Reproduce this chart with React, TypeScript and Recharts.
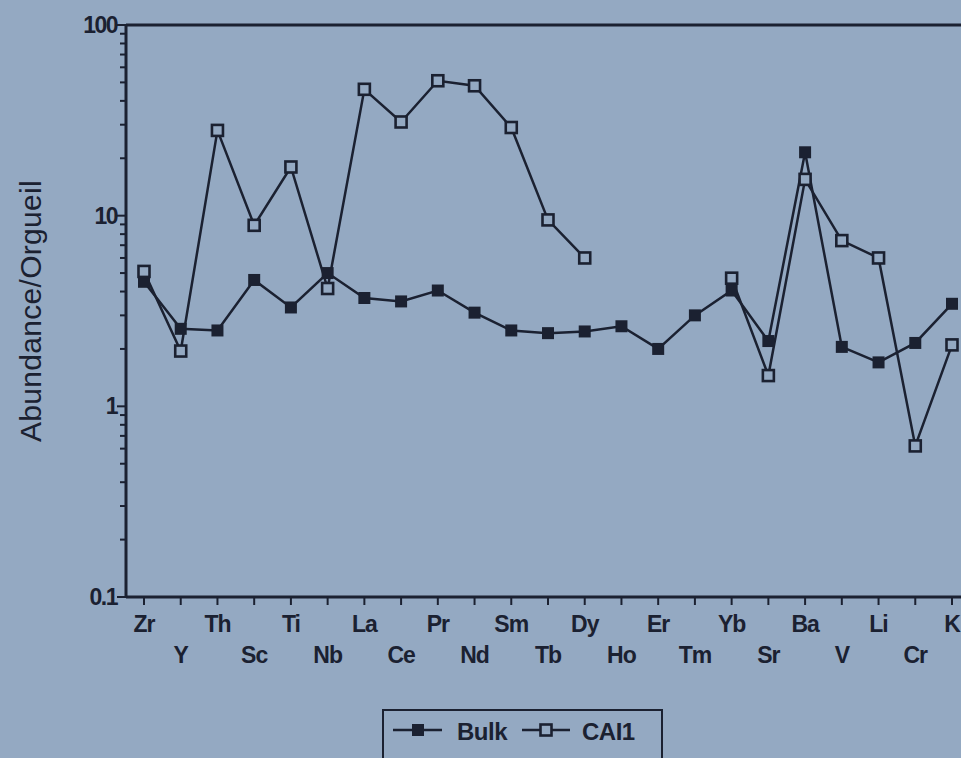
import React from "react";
import { Line, LineChart, ReferenceLine, XAxis, YAxis } from "recharts";

const elements = ["Zr", "Y", "Th", "Sc", "Ti", "Nb", "La", "Ce", "Pr", "Nd", "Sm", "Tb", "Dy", "Ho", "Er", "Tm", "Yb", "Sr", "Ba", "V", "Li", "Cr", "K"];
const bulk = [4.5, 2.55, 2.5, 4.6, 3.3, 5.0, 3.7, 3.55, 4.05, 3.1, 2.5, 2.42, 2.47, 2.63, 2.0, 3.0, 4.05, 2.2, 21.5, 2.05, 1.7, 2.15, 3.45];
const cai1 = [5.1, 1.95, 28, 8.9, 18, 4.15, 46, 31, 51, 48, 29, 9.5, 6.0, null, null, null, 4.7, 1.45, 15.5, 7.4, 6.0, 0.62, 2.1];
const majorTicks = [0.1, 1, 10, 100];
const minorTicks = [0.2, 0.3, 0.4, 0.5, 0.6, 0.7, 0.8, 0.9, 2, 3, 4, 5, 6, 7, 8, 9, 20, 30, 40, 50, 60, 70, 80, 90];

const data = elements.map((el, i) => ({ el, bulk: bulk[i], cai1: cai1[i] }));

const INK = "#1b2131";
const BG = "#94a9c2";
const FONT = "'Liberation Sans', Arial, sans-serif";

const FilledSquare = (props: any) => {
  const { cx, cy, index } = props;
  if (cx == null || cy == null) return <g key={index} />;
  return <rect key={index} x={cx - 6} y={cy - 6} width={12} height={12} fill={INK} />;
};

const OpenSquare = (props: any) => {
  const { cx, cy, index, value } = props;
  if (cx == null || cy == null || value == null) return <g key={index} />;
  return <rect key={index} x={cx - 5.5} y={cy - 5.5} width={11} height={11} fill={BG} stroke={INK} strokeWidth={2.6} />;
};

const XTick = (props: any) => {
  const { x, y, payload } = props;
  const row2 = payload.index % 2 === 1;
  return (
    <text x={x} y={y + (row2 ? 58 : 27)} textAnchor="middle" fill={INK} fontSize={23} fontWeight="bold" fontFamily={FONT} letterSpacing={-1}>
      {payload.value}
    </text>
  );
};

const YTick = (props: any) => {
  const { x, y, payload } = props;
  const major = majorTicks.includes(payload.value);
  return (
    <g>
      <line x1={x - (major ? 9 : 6)} x2={x} y1={y} y2={y} stroke={INK} strokeWidth={2} />
      {major && (
        <text x={x - 9} y={y + 8} textAnchor="end" fill={INK} fontSize={23} fontWeight="bold" fontFamily={FONT} letterSpacing={-1.5}>
          {payload.value}
        </text>
      )}
    </g>
  );
};

export default function App() {
  return (
    <div style={{ position: "fixed", inset: 0, background: BG, overflow: "hidden" }}>
      <LineChart width={980} height={758} data={data} margin={{ top: 25, right: 10, left: 0, bottom: 0 }}>
        <XAxis
          dataKey="el"
          interval={0}
          height={161}
          padding={{ left: 18, right: 18 }}
          tickSize={8}
          tickMargin={0}
          tickLine={{ stroke: INK, strokeWidth: 2 }}
          axisLine={{ stroke: INK, strokeWidth: 3 }}
          tick={<XTick />}
        />
        <YAxis
          scale="log"
          domain={[0.1, 100]}
          allowDataOverflow
          ticks={[...majorTicks, ...minorTicks]}
          interval={0}
          width={126}
          tickSize={0}
          tickMargin={0}
          tickLine={false}
          axisLine={{ stroke: INK, strokeWidth: 3 }}
          tick={<YTick />}
        />
        <ReferenceLine y={100} stroke={INK} strokeWidth={3} />
        <Line type="linear" dataKey="bulk" name="Bulk" stroke={INK} strokeWidth={2.5} dot={<FilledSquare />} activeDot={false} isAnimationActive={false} />
        <Line type="linear" dataKey="cai1" name="CAI1" stroke={INK} strokeWidth={2.5} dot={<OpenSquare />} activeDot={false} connectNulls={false} isAnimationActive={false} />
      </LineChart>
      <div
        style={{
          position: "absolute",
          left: 31,
          top: 311,
          transform: "translate(-50%, -50%) rotate(-90deg)",
          color: INK,
          fontFamily: FONT,
          fontSize: 30,
          whiteSpace: "nowrap",
          letterSpacing: 0.3,
        }}
      >
        Abundance/Orgueil
      </div>
      <div
        style={{
          position: "absolute",
          left: 382,
          top: 709,
          width: 281,
          height: 70,
          border: `2.5px solid ${INK}`,
          boxSizing: "border-box",
        }}
      >
        <svg width={281} height={60} style={{ position: "absolute", left: -2, top: -2 }}>
          <line x1={11} x2={60} y1={21} y2={21} stroke={INK} strokeWidth={2.5} />
          <rect x={30} y={15} width={12} height={12} fill={INK} />
          <text x={75} y={31} fill={INK} fontSize={24} fontWeight="bold" fontFamily={FONT} letterSpacing={-0.5}>
            Bulk
          </text>
          <line x1={140} x2={188} y1={21} y2={21} stroke={INK} strokeWidth={2.5} />
          <rect x={158.5} y={15.5} width={11} height={11} fill={BG} stroke={INK} strokeWidth={2.6} />
          <text x={200} y={31} fill={INK} fontSize={24} fontWeight="bold" fontFamily={FONT} letterSpacing={-0.5}>
            CAI1
          </text>
        </svg>
      </div>
    </div>
  );
}
